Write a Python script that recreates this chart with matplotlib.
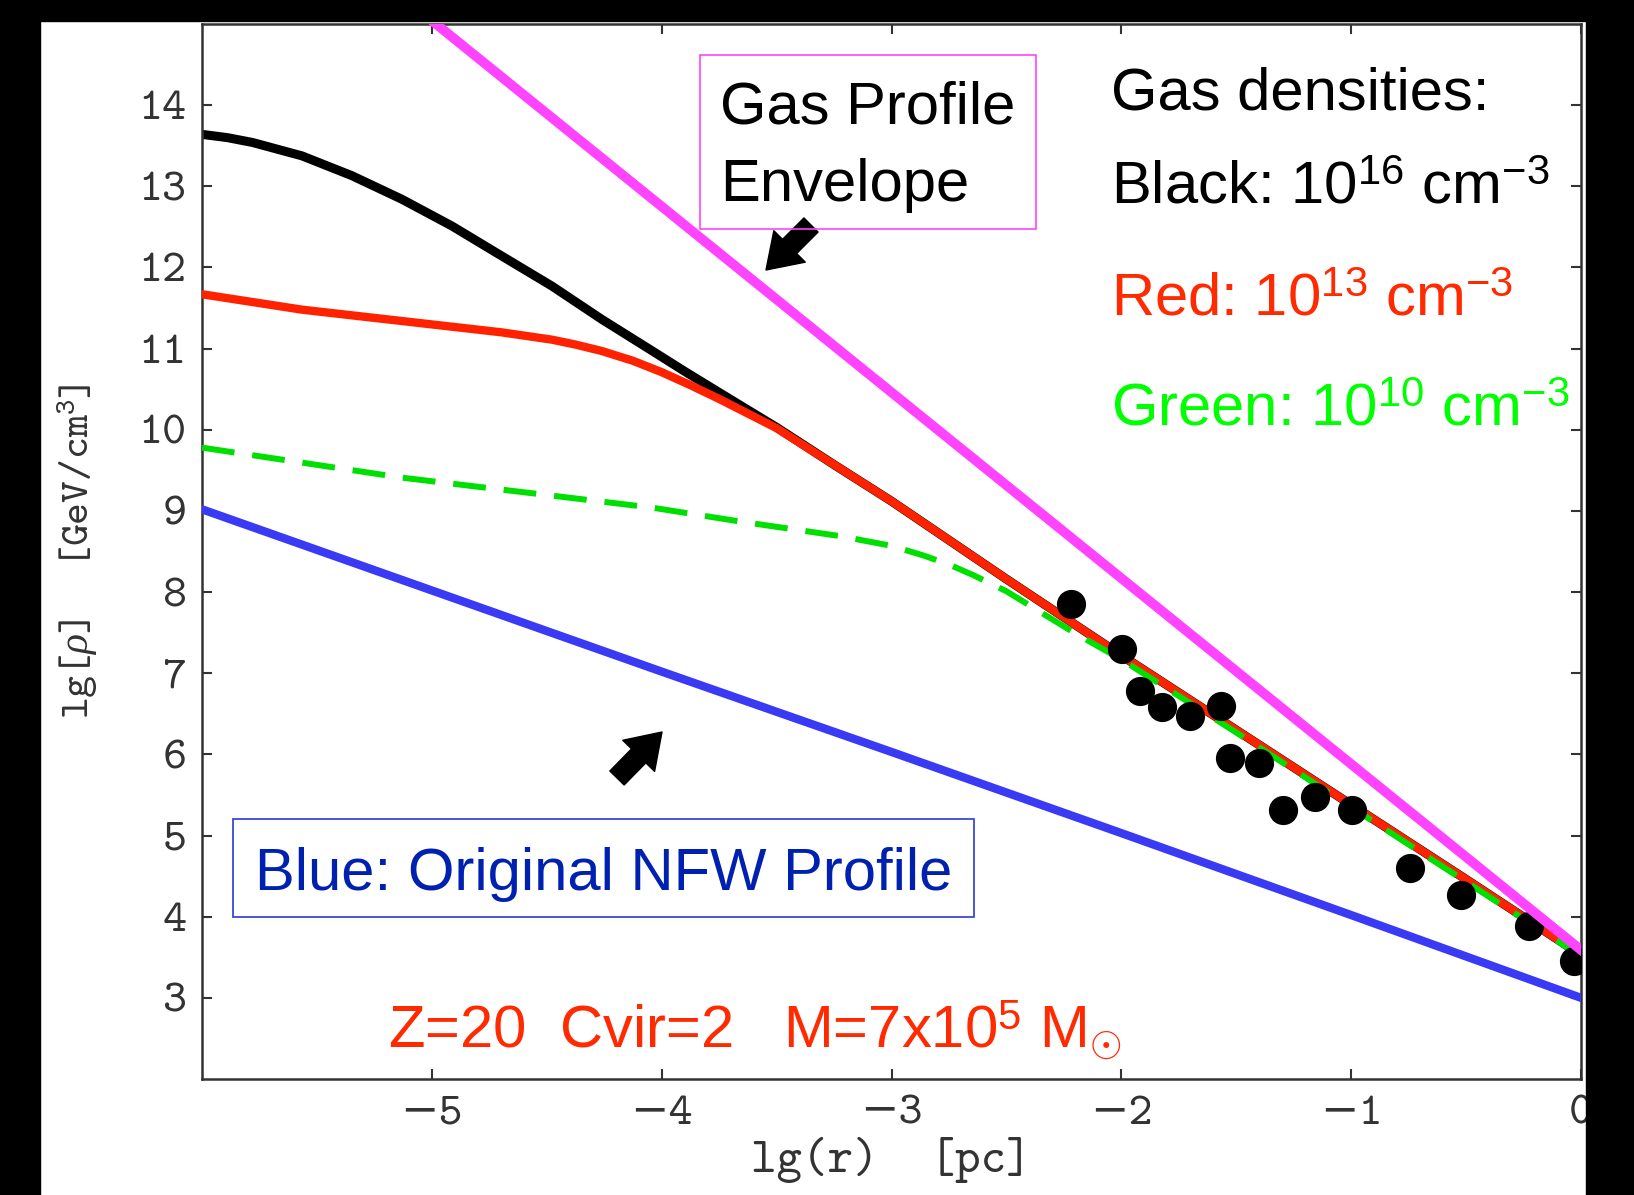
import matplotlib
matplotlib.use('Agg')
import matplotlib.pyplot as plt
from matplotlib.patches import Rectangle

# 곡선 데이터 (lg r, lg rho)
r_black = [-6.0, -5.89, -5.78, -5.565, -5.347, -5.13, -4.912, -4.695, -4.477, -4.26, -4.04, -3.9, -3.75,
           -3.5, -3.25, -3.0, -2.5, -2.0, -1.5, -1.0, -0.5, 0.0]
rho_black = [13.64, 13.60, 13.54, 13.375, 13.13, 12.84, 12.51, 12.14, 11.77, 11.36, 10.97, 10.72, 10.46,
             10.03, 9.57, 9.12, 8.16, 7.22, 6.30, 5.38, 4.46, 3.53]

r_red = [-6.0, -5.565, -5.13, -4.695, -4.477, -4.375, -4.26, -4.125, -4.0, -3.875, -3.75, -3.625, -3.5,
         -3.25, -3.0, -2.5, -2.0, -1.5, -1.0, -0.5, 0.0]
rho_red = [11.67, 11.48, 11.34, 11.20, 11.11, 11.05, 10.97, 10.85, 10.71, 10.55, 10.38, 10.20, 10.02,
           9.57, 9.12, 8.16, 7.22, 6.30, 5.38, 4.46, 3.53]

r_green = [-6.0, -5.13, -4.04, -3.66, -3.224, -3.0, -2.86, -2.75, -2.645, -2.5, -2.35, -2.2, -2.0,
           -1.5, -1.0, -0.5, 0.0]
rho_green = [9.78, 9.41, 9.04, 8.87, 8.69, 8.57, 8.45, 8.34, 8.21, 8.01, 7.75, 7.49, 7.17,
             6.27, 5.35, 4.43, 3.51]

r_blue = [-6.0, -5.0, -4.0, -3.0, -2.0, -1.0, 0.0]
rho_blue = [9.02, 8.02, 7.02, 6.03, 5.03, 4.02, 3.00]

r_env = [-5.2, 0.0]
rho_env = [15.50, 3.59]

r_obs = [-2.218, -1.998, -1.918, -1.824, -1.70, -1.567, -1.527, -1.399, -1.297, -1.157, -0.997, -0.743, -0.523, -0.225, -0.03]
rho_obs = [7.85, 7.30, 6.78, 6.59, 6.47, 6.60, 5.96, 5.90, 5.31, 5.48, 5.31, 4.60, 4.27, 3.88, 3.45]

xticks = [-5, -4, -3, -2, -1, 0]
yticks = [3, 4, 5, 6, 7, 8, 9, 10, 11, 12, 13, 14]

plt.rcParams['mathtext.fontset'] = 'custom'
plt.rcParams['mathtext.rm'] = 'Liberation Sans'
plt.rcParams['mathtext.it'] = 'Liberation Serif:italic'
plt.rcParams['mathtext.bf'] = 'Liberation Sans:bold'
plt.rcParams['mathtext.tt'] = 'cmtt10'

W, H = 1634, 1195
fig = plt.figure(figsize=(W / 100, H / 100), dpi=100, facecolor='white')
ax = fig.add_axes([202 / W, 1 - 1079 / H, (1581 - 202) / W, (1079 - 24) / H])

ax.plot(r_black, rho_black, color='black', lw=6.5, zorder=2, solid_capstyle='round')
ax.plot(r_red, rho_red, color='#ff2200', lw=6, zorder=3)
ax.plot(r_green, rho_green, color='#00e000', lw=4.3, dashes=(5.5, 3), zorder=4)
ax.plot(r_obs, rho_obs, 'o', color='black', ms=20, zorder=5)
ax.plot(r_blue, rho_blue, color='#3a3af5', lw=6, zorder=5)
ax.plot(r_env, rho_env, color='#ff44ff', lw=7, zorder=6)

ax.set_xlim(-6, 0)
ax.set_ylim(2, 15)
ax.set_xticks(xticks)
ax.set_yticks(yticks)

mono = ['cmtt10', 'DejaVu Serif']
ax.tick_params(direction='in', length=7, width=1.5, colors='#333333', labelsize=33,
               top=True, right=True)
ax.tick_params(axis='x', pad=12)
ax.tick_params(axis='y', pad=11)
for lab in ax.get_xticklabels() + ax.get_yticklabels():
    lab.set_family(mono)
for sp in ax.spines.values():
    sp.set_color('#333333')
    sp.set_linewidth(1.8)

ax.set_xlabel('lg(r)  [pc]', family=mono, fontsize=35, color='#333333')
ax.set_ylabel('lg[$\\rho$]  [GeV/cm$^{\\mathtt{3}}$]', family=mono, fontsize=30, color='#333333')
ax.xaxis.label.set_va('center')
ax.yaxis.label.set_va('center')
ax.xaxis.set_label_coords(0.5, (1195 - 1160 - 116) / 1055)
ax.yaxis.set_label_coords((78 - 202) / 1379, 0.5)


def ftext(x, y, s, **kw):
    fig.text(x / W, 1 - y / H, s, family='Liberation Sans', fontsize=43, va='baseline', **kw)


# 오른쪽 위 설명
ftext(1111, 109, 'Gas densities:', color='black')
ftext(1111, 203, 'Black: 10$^{16}$ cm$^{-3}$', color='black')
ftext(1111, 316, 'Red: 10$^{13}$ cm$^{-3}$', color='#ff2a00')
ftext(1111, 426, 'Green: 10$^{10}$ cm$^{-3}$', color='#00ff00')

# 상자
fig.add_artist(Rectangle((700 / W, 1 - 229 / H), 336 / W, 174 / H, transform=fig.transFigure,
                         fill=False, edgecolor='#ff44ff', lw=1.2, zorder=7))
ftext(720, 124, 'Gas Profile', color='black')
ftext(720, 201, 'Envelope', color='black')

fig.add_artist(Rectangle((233 / W, 1 - 917 / H), 741 / W, 98 / H, transform=fig.transFigure,
                         facecolor='white', edgecolor='#2a3ad8', lw=1.2, zorder=7))
ftext(255, 890, 'Blue: Original NFW Profile', color='#0020b0', zorder=8)

ftext(388, 1048, 'Z=20  Cvir=2   M=7x10$^{5}$ M$_{\\odot}$', color='#ff2a00')

# 화살표
arrow = dict(arrowstyle='simple,head_width=1.0,head_length=0.75,tail_width=0.45',
             mutation_scale=32, color='black', shrinkA=0, shrinkB=0)
ax.annotate('', xy=(766, H - 270), xycoords='figure pixels',
            xytext=(811, H - 225), textcoords='figure pixels', arrowprops=arrow)
ax.annotate('', xy=(662, H - 732), xycoords='figure pixels',
            xytext=(617, H - 778), textcoords='figure pixels', arrowprops=arrow)

# 검은 테두리
for rect in [(0, 0, 40, H), (0, 0, W, 21), (1586, 0, W - 1586, H)]:
    x0, y0, w, h = rect
    fig.add_artist(Rectangle((x0 / W, 1 - (y0 + h) / H), w / W, h / H,
                             transform=fig.transFigure, color='black', zorder=20))

fig.savefig('out.png', dpi=100)
